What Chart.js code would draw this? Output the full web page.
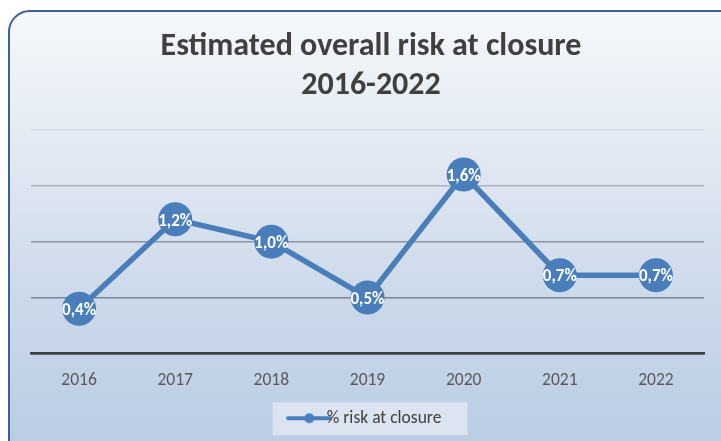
<!DOCTYPE html>
<html>
<head>
<meta charset="utf-8">
<script src="https://cdn.jsdelivr.net/npm/chart.js@4.4.1/dist/chart.umd.min.js"></script>
<style>
  html, body { margin: 0; padding: 0; width: 721px; height: 441px; overflow: hidden; background: #ffffff; }
  #frame {
    position: absolute; left: 8px; top: 10px; width: 740px; height: 460px;
    border: 2px solid #3d6196; border-radius: 22px;
    background: linear-gradient(to bottom, #f5f8fb 0%, #e2e9f2 30%, #cad8ea 65%, #b7cbe3 100%);
  }
  #wrap { position: absolute; left: 0; top: 0; width: 721px; height: 441px; }
</style>
</head>
<body>
<div id="frame"></div>
<div id="wrap"><canvas id="c" width="721" height="441"></canvas></div>
<script>
const categories = ['2016', '2017', '2018', '2019', '2020', '2021', '2022'];
const riskValues = [0.4, 1.2, 1.0, 0.5, 1.6, 0.7, 0.7];
const seriesName = '% risk at closure';
const titleLines = ['Estimated overall risk at closure', '2016-2022'];

const lineColor = '#4a7ebb';
const fontFamily = 'Carlito, Calibri, Lato, "Open Sans", sans-serif';

// legend symbol: line with a dot
const sym = document.createElement('canvas');
sym.width = 46; sym.height = 12;
(function () {
  const g = sym.getContext('2d');
  g.strokeStyle = lineColor; g.lineWidth = 4; g.lineCap = 'round';
  g.beginPath(); g.moveTo(2, 6); g.lineTo(44, 6); g.stroke();
  g.fillStyle = lineColor; g.beginPath(); g.arc(23, 6, 5, 0, Math.PI * 2); g.fill();
})();

const labelPlugin = {
  id: 'pointLabels',
  afterDatasetsDraw(chart) {
    const ctx = chart.ctx;
    const meta = chart.getDatasetMeta(0);
    ctx.save();
    ctx.fillStyle = '#ffffff';
    ctx.font = 'bold 17px ' + fontFamily;
    ctx.textAlign = 'center';
    ctx.textBaseline = 'middle';
    meta.data.forEach((pt, i) => {
      const v = chart.data.datasets[0].data[i];
      ctx.fillText(v.toFixed(1).replace('.', ',') + '%', pt.x, pt.y + 2);
    });
    ctx.restore();
  }
};

const legendBgPlugin = {
  id: 'legendBg',
  beforeDraw(chart) {
    const lg = chart.legend;
    if (!lg || !lg.legendHitBoxes || !lg.legendHitBoxes.length) return;
    const b = lg.legendHitBoxes[0];
    const ctx = chart.ctx;
    ctx.save();
    ctx.fillStyle = 'rgba(225,232,242,0.85)';
    ctx.fillRect(b.left - 28, b.top + b.height / 2 - 16, b.width + 54, 33);
    ctx.restore();
  }
};

const gridColors = ['#3a3f48', '#7a8491', '#8d96a2', '#a9b3bf', '#d0d9e4'];

new Chart(document.getElementById('c'), {
  type: 'line',
  data: {
    labels: categories,
    datasets: [{
      label: seriesName,
      data: riskValues,
      borderColor: lineColor,
      backgroundColor: lineColor,
      borderWidth: 5.5,
      pointRadius: 17,
      pointHoverRadius: 17,
      pointBackgroundColor: lineColor,
      pointBorderWidth: 0,
      pointStyle: 'circle',
      tension: 0,
      clip: false
    }]
  },
  options: {
    responsive: false,
    animation: false,
    devicePixelRatio: 1,
    layout: { padding: { left: 31, right: 10, top: 0, bottom: 4 } },
    plugins: {
      title: {
        display: true,
        text: titleLines,
        color: '#404040',
        font: { family: fontFamily, size: 32, weight: 'bold' },
        lineHeight: 1.2,
        padding: { top: 28, bottom: 25 }
      },
      legend: {
        display: true,
        position: 'bottom',
        labels: {
          usePointStyle: true,
          pointStyle: sym,
          color: '#404040',
          font: { family: fontFamily, size: 17.5 },
          padding: 0
        }
      },
      tooltip: { enabled: false }
    },
    scales: {
      x: {
        offset: true,
        grid: { display: false, drawTicks: false },
        border: { display: true, color: '#3a3f48', width: 2.5 },
        ticks: { color: '#595959', font: { family: fontFamily, size: 17.5 }, padding: 17 },
        afterFit(s) { s.height = s.height + 1; }
      },
      y: {
        min: 0, max: 2,
        ticks: { display: false, stepSize: 0.5 },
        grid: {
          drawTicks: false,
          color: (c) => gridColors[Math.round(c.tick.value * 2)] || '#8d96a2',
          lineWidth: 1.5
        },
        border: { display: false },
        afterFit(s) { s.width = 0; }
      }
    }
  },
  plugins: [legendBgPlugin, labelPlugin]
});
</script>
</body>
</html>
